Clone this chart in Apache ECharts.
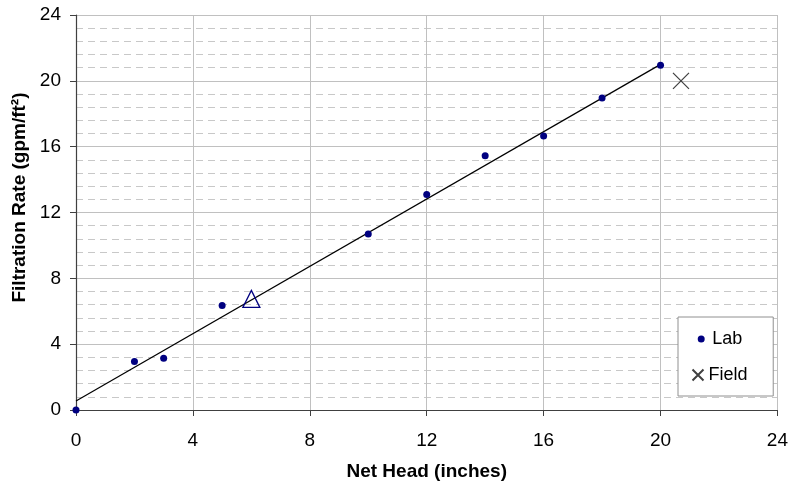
<!DOCTYPE html>
<html>
<head>
<meta charset="utf-8">
<script src="https://cdn.jsdelivr.net/npm/echarts@6/dist/echarts.min.js"></script>
<style>html,body{margin:0;padding:0;background:#fff}#c{width:791px;height:486px}</style>
</head>
<body>
<div id="c"></div>
<script>
// Data
const labX = [0, 2, 3, 5, 10, 12, 14, 16, 18, 20];
const labY = [0, 2.95, 3.15, 6.35, 10.7, 13.1, 15.45, 16.65, 18.95, 20.95];
const fieldX = [20.7];
const fieldY = [20.0];
const triX = [6];
const triY = [6.75];
const trendX = [0, 20];
const trendY = [0.55, 21.0];
const xTicks = [0, 4, 8, 12, 16, 20, 24];
const yTicks = [0, 4, 8, 12, 16, 20, 24];

const zip = (a, b) => a.map((v, i) => [v, b[i]]);
const FONT = '"Liberation Sans", Arial, sans-serif';

const chart = echarts.init(document.getElementById('c'), null, {renderer: 'canvas'});
chart.setOption({
  animation: false,
  backgroundColor: '#fff',
  grid: {left: 76, right: 11, top: 15, bottom: 72},
  xAxis: {
    type: 'value', min: xTicks[0], max: xTicks[xTicks.length - 1], interval: 4,
    name: 'Net Head (inches)', nameLocation: 'middle', nameGap: 52,
    nameTextStyle: {fontFamily: FONT, fontSize: 19, fontWeight: 'bold', color: '#000'},
    axisLine: {lineStyle: {color: '#404040', width: 1.2}},
    axisTick: {show: true, inside: false, length: 6, lineStyle: {color: '#404040', width: 1}},
    axisLabel: {fontFamily: FONT, fontSize: 19, color: '#000', margin: 21},
    splitLine: {show: true, lineStyle: {color: '#c0c0c0', width: 1}}
  },
  yAxis: {
    type: 'value', min: yTicks[0], max: yTicks[yTicks.length - 1], interval: 4,
    name: 'Filtration Rate (gpm/ft²)', nameLocation: 'middle', nameGap: 36,
    nameTextStyle: {fontFamily: FONT, fontSize: 19, fontWeight: 'bold', color: '#000', padding: [0, 0, 0, 30]},
    axisLine: {show: true, lineStyle: {color: '#404040', width: 1.2}},
    axisTick: {show: true, inside: false, length: 6, lineStyle: {color: '#404040', width: 1}},
    axisLabel: {fontFamily: FONT, fontSize: 19, color: '#000', margin: 15},
    splitLine: {show: true, lineStyle: {color: '#c0c0c0', width: 1}},
    minorTick: {show: false, splitNumber: 5},
    minorSplitLine: {show: true, lineStyle: {color: '#c8c8c8', width: 1, type: [7, 5]}}
  },
  legend: [
    {
      orient: 'vertical', left: 678, top: 317,
      backgroundColor: '#fff', borderColor: '#909090', borderWidth: 1,
      padding: [13, 31, 48, 19.7],
      itemWidth: 12, itemHeight: 7,
      textStyle: {fontFamily: FONT, fontSize: 18, color: '#000'},
      data: ['Lab']
    },
    {
      orient: 'vertical', left: 690, top: 366,
      padding: 0,
      itemWidth: 11, itemHeight: 12,
      textStyle: {fontFamily: FONT, fontSize: 18, color: '#000'},
      data: ['Field']
    }
  ],
  series: [
    {
      type: 'line', name: 'trend', data: zip(trendX, trendY),
      showSymbol: false, symbol: 'none',
      lineStyle: {color: '#000', width: 1.2}, z: 2, silent: true
    },
    {
      type: 'scatter', name: 'Lab', data: zip(labX, labY),
      symbol: 'circle', symbolSize: 7,
      itemStyle: {color: '#000080', opacity: 1}, clip: false, z: 5
    },
    {
      type: 'scatter', name: 'Field', data: zip(fieldX, fieldY),
      symbol: 'path://M0,0L10,10M10,0L0,10', symbolSize: 16,
      itemStyle: {color: 'none', borderColor: '#404040', borderWidth: 1.2, opacity: 1}, z: 5
    },
    {
      type: 'scatter', name: 'tri', data: zip(triX, triY),
      symbol: 'triangle', symbolSize: [17, 17],
      itemStyle: {color: 'rgba(255,255,255,0)', borderColor: '#000080', borderWidth: 1.3, opacity: 1}, z: 6
    }
  ]
});
</script>
</body>
</html>
